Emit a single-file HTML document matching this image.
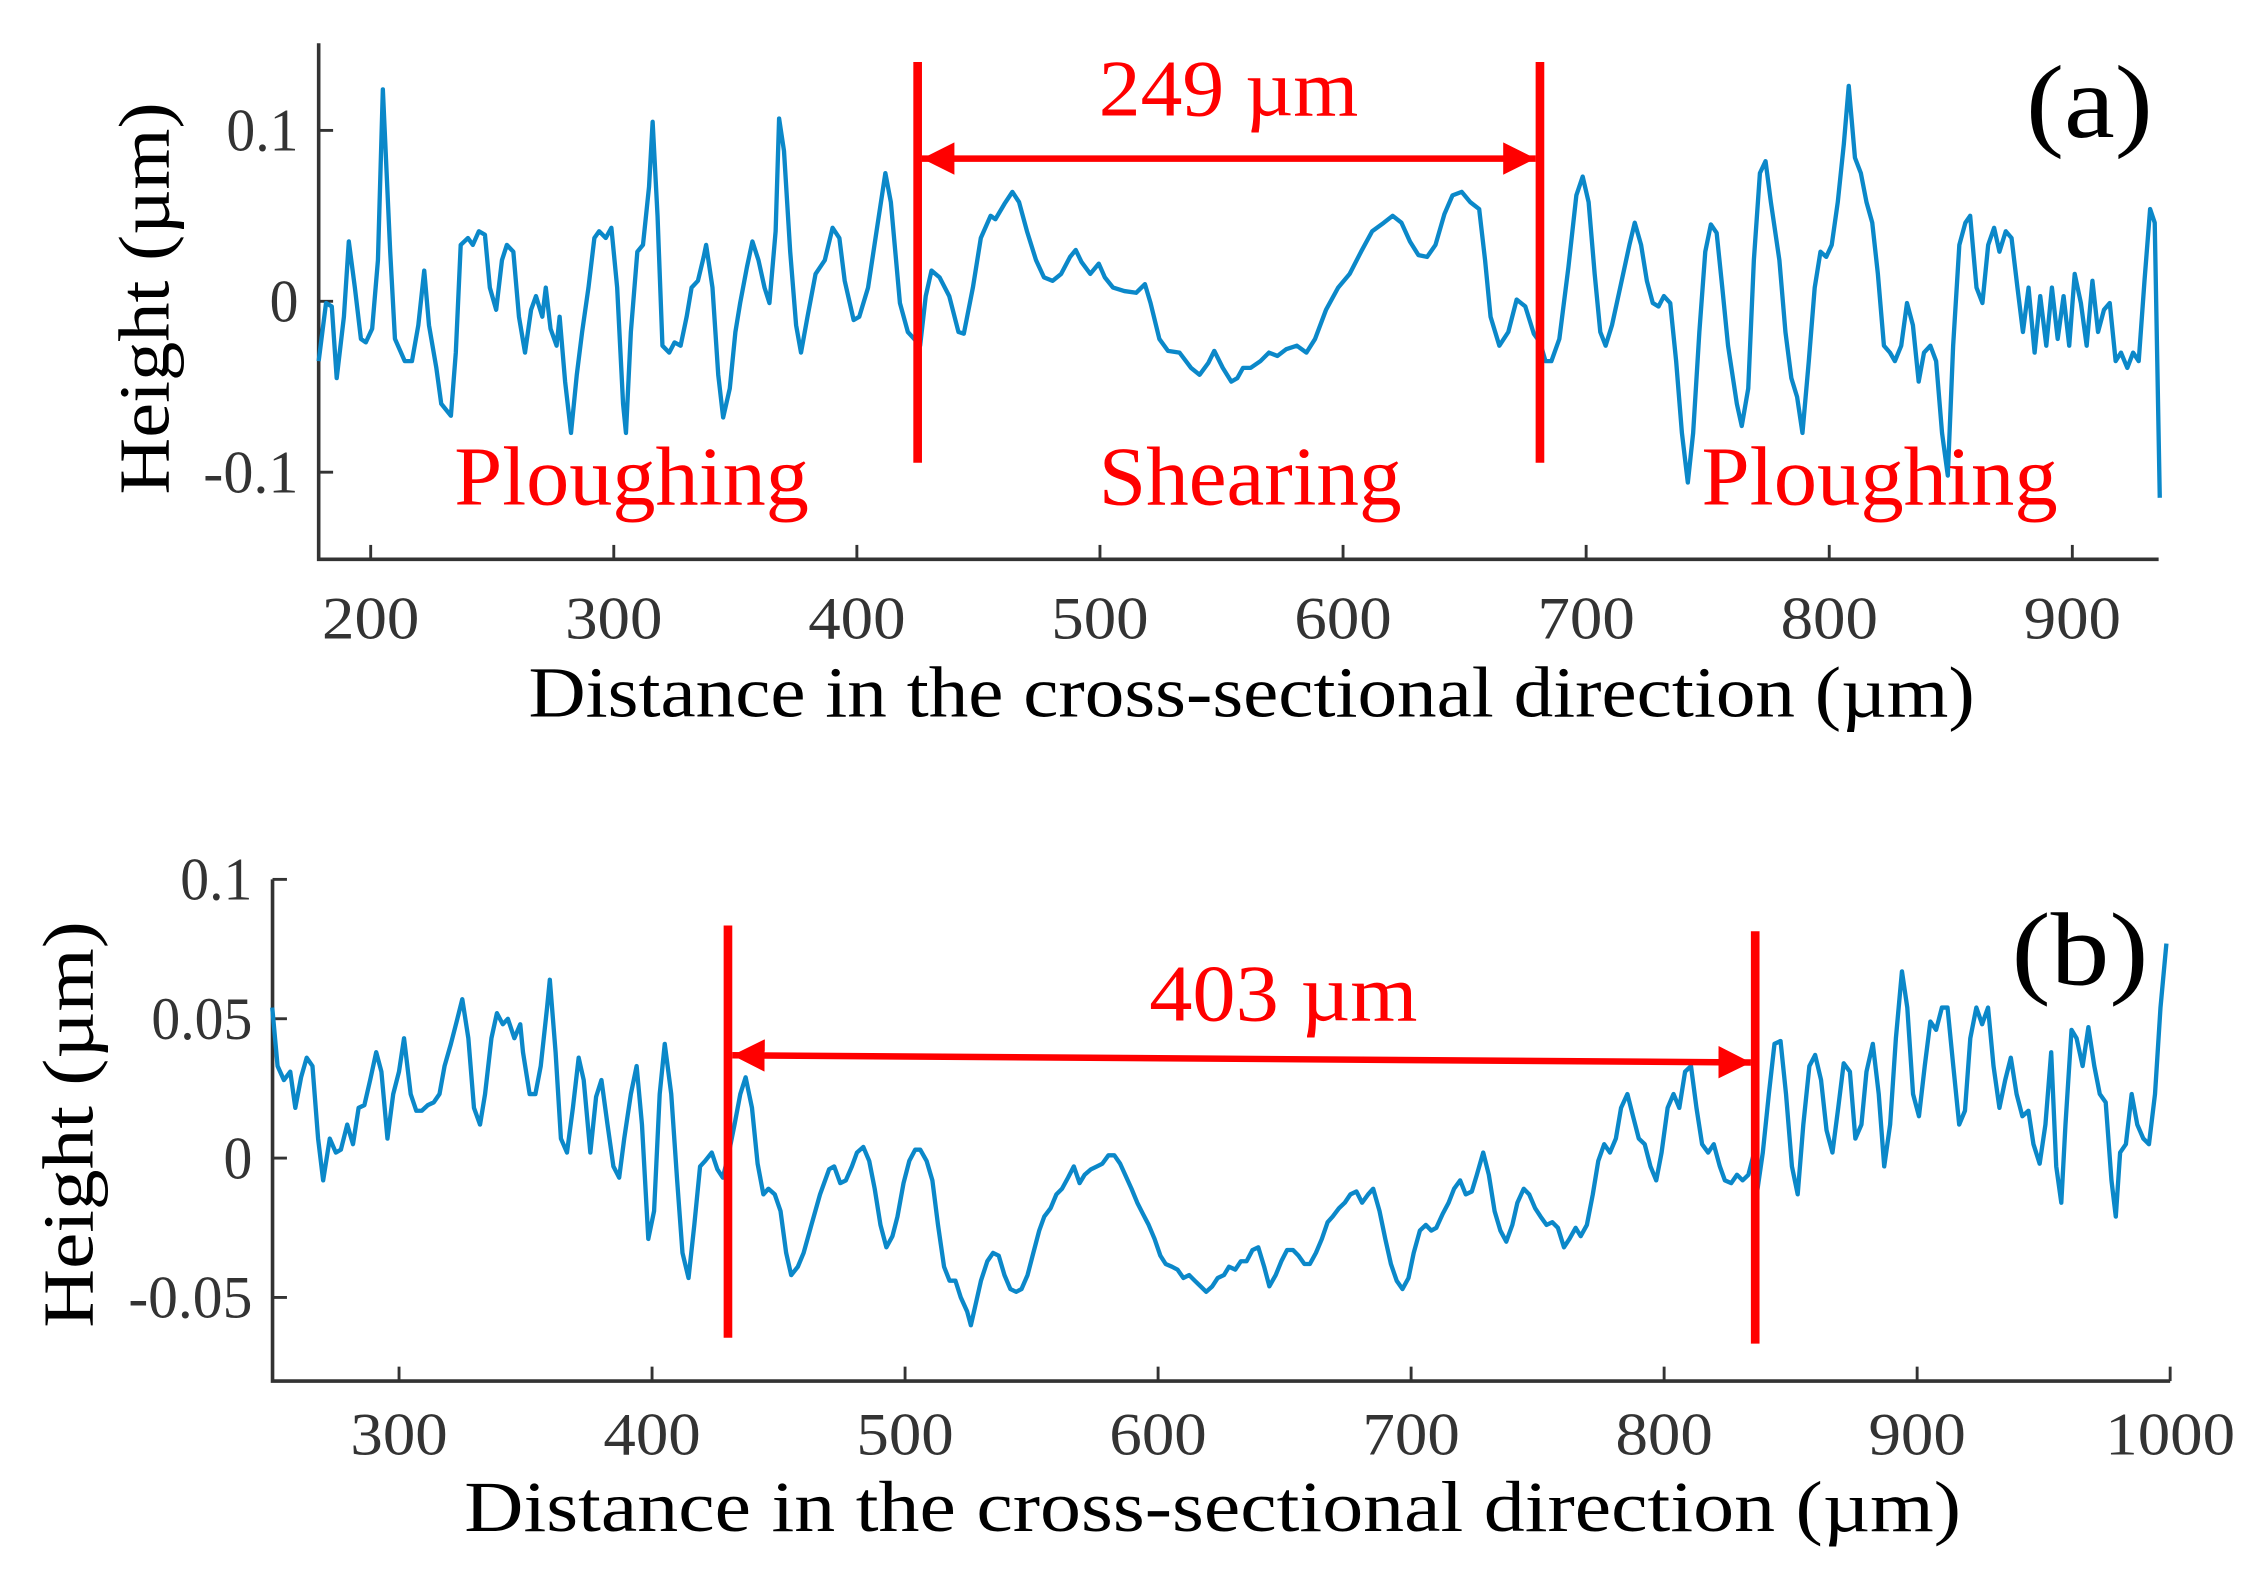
<!DOCTYPE html>
<html><head><meta charset="utf-8"><style>
html,body{margin:0;padding:0;background:#fff;}
svg{display:block;}
text{font-family:"Liberation Serif",serif;}
</style></head><body>
<svg id="fig" width="2261" height="1580" viewBox="0 0 1568 1096" preserveAspectRatio="none" xmlns="http://www.w3.org/2000/svg">
<defs>
<marker id="ah" viewBox="0 0 10 10" refX="10" refY="5" markerWidth="5" markerHeight="5" orient="auto-start-reverse"><path d="M0,0 L10,5 L0,10 z" fill="#ff0000"/></marker>
</defs>
<g id="pa"></g>
<g id="pb"></g>
</svg>
<script>
// Panel (a) data
const aX = [178.6,181.6,184,186,189,191,193.5,196,198,200.6,203,205,208,210,214,217,219.6,222,224,227,229,233,235,237,240,242,244.5,247,249,251.6,254,256,258.7,261,263.5,266,268,270.6,272,274,276.5,277.7,280,282.4,284.8,287,289.6,292,294,296.7,299,301.4,303.8,305,307,309.7,312,314.5,316,318,320,322.8,325,327.5,330,332,334.6,337,338,340.6,343,345,347.7,350,352,354.8,357,359.5,362,364,366.6,368,370,372.6,375,377,379.7,383,386.8,390,392.8,395,398.7,401,404.6,408,411.7,414,417.7,421,423.6,426,428.3,430.7,434,438,441.8,444,447.7,451,455,457,460.7,464,466.7,470,473.7,477,480.5,484,487.7,490,492.4,496,499.5,502,505.4,510,514.9,518.5,520.8,524.4,528,532.7,537.5,541,544.6,547,550.5,554,556.5,558.8,562,566,569.5,573,576.6,581,584.9,588.5,593,598,602.7,607.4,612,616.8,620.4,624,627.5,631,634.6,638,641.7,645,648.8,652.3,656,658.4,660.7,664.3,668,671.4,675,678.5,681,683.3,685.7,689,692.7,696,698.6,701,703.5,705.8,708,710.6,714,717.8,720,722.6,725,727.4,729.8,732,734.6,737,739.4,741.8,744,746.6,749,751.3,753.7,756,758.4,762,764,766.7,769,771.5,773.8,776,779.5,782,784.4,786.8,789,791.6,794,796.4,798.8,801,803.5,806,808,810.6,813,815.3,817.7,820,822.5,825,827,829.6,832,834.4,836.8,839,841.6,844,846.4,848.8,851,853.5,856,858,860.6,863,865.4,867.8,870,872.6,875,877.4,879.7,882,884.5,886.8,889.3,891.6,894,896.4,898.7,901,903.5,905.9,908.3,910.6,913,915.4,917.8,920,922.6,925,927.3,929.7,932,933.9,936];
const aY = [-0.035,-0.001,-0.003,-0.045,-0.009,0.035,0.008,-0.022,-0.024,-0.016,0.024,0.124,0.029,-0.022,-0.035,-0.035,-0.014,0.018,-0.014,-0.039,-0.060,-0.067,-0.030,0.033,0.037,0.033,0.041,0.039,0.008,-0.005,0.024,0.033,0.029,-0.009,-0.030,-0.005,0.003,-0.009,0.008,-0.016,-0.026,-0.009,-0.047,-0.077,-0.043,-0.018,0.008,0.037,0.041,0.037,0.043,0.008,-0.060,-0.077,-0.018,0.029,0.033,0.067,0.105,0.050,-0.026,-0.030,-0.024,-0.026,-0.009,0.008,0.012,0.026,0.033,0.008,-0.043,-0.068,-0.051,-0.018,-0.001,0.020,0.035,0.024,0.008,-0.001,0.041,0.107,0.088,0.029,-0.014,-0.030,-0.009,0.016,0.024,0.043,0.037,0.012,-0.011,-0.009,0.008,0.040,0.075,0.058,-0.001,-0.018,-0.022,-0.026,0.003,0.018,0.014,0.003,-0.018,-0.019,0.008,0.037,0.050,0.048,0.057,0.064,0.058,0.041,0.024,0.014,0.012,0.016,0.026,0.030,0.023,0.016,0.022,0.014,0.008,0.006,0.005,0.010,-0.001,-0.022,-0.029,-0.030,-0.039,-0.043,-0.036,-0.029,-0.039,-0.047,-0.045,-0.039,-0.039,-0.035,-0.030,-0.032,-0.028,-0.026,-0.030,-0.022,-0.005,0.008,0.016,0.029,0.041,0.046,0.050,0.046,0.035,0.027,0.026,0.033,0.051,0.062,0.064,0.058,0.054,0.024,-0.009,-0.026,-0.018,0.001,-0.003,-0.019,-0.024,-0.035,-0.035,-0.022,0.020,0.062,0.073,0.058,0.016,-0.018,-0.026,-0.014,0.008,0.033,0.046,0.033,0.012,-0.001,-0.003,0.003,-0.001,-0.035,-0.077,-0.106,-0.077,-0.018,0.029,0.045,0.040,0.008,-0.026,-0.060,-0.073,-0.051,0.024,0.075,0.082,0.058,0.024,-0.018,-0.045,-0.056,-0.077,-0.035,0.008,0.029,0.026,0.033,0.058,0.092,0.126,0.084,0.075,0.058,0.046,0.016,-0.026,-0.030,-0.035,-0.026,-0.001,-0.014,-0.047,-0.030,-0.026,-0.035,-0.077,-0.102,-0.026,0.033,0.046,0.050,0.008,-0.001,0.033,0.043,0.029,0.041,0.037,0.008,-0.018,0.008,-0.030,0.003,-0.026,0.008,-0.022,0.003,-0.026,0.016,-0.001,-0.026,0.012,-0.018,-0.005,-0.001,-0.035,-0.030,-0.039,-0.030,-0.035,0.012,0.054,0.046,-0.115];
const aXTicks = [200,300,400,500,600,700,800,900];
const aYTicks = [-0.1,0,0.1];
const aYTickLabels = ["-0.1","0","0.1"];
const aMarks = [425,681];

// Panel (b) data
const bX = [249.9,252,254.5,257,259,261.3,263.5,265.8,268,270,272.6,275,277,279.5,281.8,284,286.3,288.6,291,293,295.4,297.7,300,302,304.6,306.8,309,311.4,313.7,316,318,320.5,322.8,325,327.4,329.6,332,334,336.5,338.7,341,343,345.6,347.9,349,351.6,353.9,356,358.5,359.6,361.9,364,366.4,368.7,371,373,375.6,377.9,380,382.4,384.7,387,389,391.6,393.9,396,398.5,400.8,403,405,407.6,409.9,412,414.4,416.7,419,421,423.6,425.8,428,430.4,432.6,434.9,437,439.5,441.7,444,446,448.5,450.8,453,455,457.6,459.9,463,466.4,470,472,474.4,476.6,479,481,483.5,485.8,488,490.3,492.6,495,497,499.4,501.7,504,506,508.5,510.8,513,515.4,517.6,519.9,522,524.5,526,528,530,532.5,534.8,537,539.3,541.6,543.9,546,548.4,550.7,553,555,557.5,559.8,562,564.4,566.7,569,571,573.5,575.8,578,580.4,582.7,585,587,589.5,591.8,594,596.3,598.6,600.9,603,605.5,607.7,610,612.3,614.5,616.8,619,621.4,623.6,626,628,630.5,632.7,635,637.3,639.6,641.9,644,646.5,648.7,651,653.3,655.5,657.8,660,662.4,664.7,667,669,671.5,673.8,676,678.4,680.6,683,685,687.5,689.8,692,694.3,696.6,699,701,703.5,705.8,708,710,712.5,714.8,717,719.4,721.6,724,726,728.5,730.7,733,735.3,737.6,740,742,744.5,746.7,749,751.2,753.5,755.8,758,760.4,762.6,765,767,769.5,771.8,774,776.3,778.6,780.9,783,785.5,787.7,790,792.3,794.6,796.9,799,801.4,803.7,806,808.3,810.6,812.8,815,817.4,819.6,822,824,826.5,828.8,831,833.3,835.6,836.8,839,841.4,843.6,846,848.2,850.5,852.8,855,857.4,859.7,862,864.2,866.5,868.8,871,873.4,875.6,878,880,882.5,884.8,887,889.3,891.6,894,896.1,898.4,900.7,903,905.2,907.5,909.8,912,914.3,916.6,918.9,921,923.4,925.7,928,930.2,932.5,934.8,937,939.3,941.6,944,946,948.4,950.7,953,955,957,958.6,961,963,965.4,967.7,970,972.2,974.5,976.8,978.5,980.2,982.5,984.8,987,989.4,991.6,994,996.2,998.5];
const bY = [0.054,0.033,0.028,0.031,0.018,0.029,0.036,0.033,0.007,-0.008,0.007,0.002,0.003,0.012,0.005,0.018,0.019,0.028,0.038,0.031,0.007,0.023,0.031,0.043,0.023,0.017,0.017,0.019,0.020,0.023,0.033,0.041,0.049,0.057,0.043,0.018,0.012,0.023,0.043,0.052,0.048,0.050,0.043,0.048,0.038,0.023,0.023,0.033,0.054,0.064,0.038,0.007,0.002,0.018,0.036,0.028,0.002,0.022,0.028,0.012,-0.003,-0.007,0.007,0.023,0.033,0.012,-0.029,-0.019,0.023,0.041,0.023,-0.008,-0.034,-0.043,-0.024,-0.003,-0.001,0.002,-0.004,-0.007,0.002,0.012,0.023,0.029,0.018,-0.002,-0.013,-0.011,-0.013,-0.019,-0.034,-0.042,-0.039,-0.034,-0.024,-0.013,-0.004,-0.003,-0.009,-0.008,-0.003,0.002,0.004,-0.001,-0.011,-0.024,-0.032,-0.028,-0.021,-0.009,-0.001,0.003,0.003,-0.001,-0.008,-0.024,-0.039,-0.044,-0.044,-0.050,-0.055,-0.060,-0.052,-0.044,-0.037,-0.034,-0.035,-0.042,-0.047,-0.048,-0.047,-0.042,-0.034,-0.026,-0.021,-0.018,-0.013,-0.011,-0.007,-0.003,-0.009,-0.006,-0.004,-0.003,-0.002,0.001,0.001,-0.002,-0.006,-0.011,-0.016,-0.020,-0.024,-0.029,-0.035,-0.038,-0.039,-0.040,-0.043,-0.042,-0.044,-0.046,-0.048,-0.046,-0.043,-0.042,-0.039,-0.040,-0.037,-0.037,-0.033,-0.032,-0.039,-0.046,-0.042,-0.037,-0.033,-0.033,-0.035,-0.038,-0.038,-0.034,-0.029,-0.023,-0.021,-0.018,-0.016,-0.013,-0.012,-0.016,-0.013,-0.011,-0.019,-0.029,-0.038,-0.044,-0.047,-0.043,-0.034,-0.026,-0.024,-0.026,-0.025,-0.020,-0.016,-0.011,-0.008,-0.013,-0.012,-0.006,0.002,-0.006,-0.019,-0.026,-0.030,-0.024,-0.016,-0.011,-0.013,-0.018,-0.021,-0.024,-0.023,-0.025,-0.032,-0.029,-0.025,-0.028,-0.024,-0.013,-0.001,0.005,0.002,0.007,0.018,0.023,0.015,0.007,0.005,-0.003,-0.008,0.002,0.018,0.023,0.018,0.031,0.033,0.018,0.005,0.002,0.005,-0.003,-0.008,-0.009,-0.006,-0.008,-0.006,0.002,-0.012,0.002,0.023,0.041,0.042,0.023,-0.003,-0.013,0.012,0.033,0.037,0.028,0.010,0.002,0.018,0.034,0.031,0.007,0.012,0.031,0.041,0.023,-0.003,0.012,0.043,0.067,0.054,0.023,0.015,0.033,0.049,0.046,0.054,0.054,0.033,0.012,0.017,0.043,0.054,0.048,0.054,0.033,0.018,0.028,0.036,0.023,0.015,0.017,0.005,-0.002,0.012,0.038,-0.003,-0.016,0.012,0.046,0.043,0.033,0.047,0.033,0.023,0.020,-0.008,-0.021,0.002,0.005,0.023,0.012,0.007,0.005,0.023,0.054,0.077];
const bXTicks = [300,400,500,600,700,800,900,1000];
const bYTicks = [-0.05,0,0.05,0.1];
const bYTickLabels = ["-0.05","0","0.05","0.1"];
const bMarks = [430,836];

const NS = "http://www.w3.org/2000/svg";
function mk(parent, tag, attrs, txt){
  const e = document.createElementNS(NS, tag);
  for (const k in attrs) e.setAttribute(k, attrs[k]);
  if (txt !== undefined) e.textContent = txt;
  parent.appendChild(e);
  return e;
}
function lenFor(s){ // approximate label widths in reference
  if (s.length === 1) return 22;
  return s.length * 22;
}

function drawPanel(g, cfg){
  const sx = v => cfg.L + (v - cfg.x0) / (cfg.x1 - cfg.x0) * (cfg.R - cfg.L);
  const sy = v => cfg.B - (v - cfg.y0) / (cfg.y1 - cfg.y0) * (cfg.B - cfg.T);
  const ax = mk(g, "path", {d:`M${cfg.L},${cfg.axTop} L${cfg.L},${cfg.B} L${cfg.R},${cfg.B}`, fill:"none", stroke:"#333", "stroke-width":2.5});
  
  
  cfg.xt.forEach(t => {
    const x = sx(t);
    const tk = mk(g, "line", {x1:x, x2:x, y1:cfg.B, y2:cfg.B-10, stroke:"#333", "stroke-width":2});
    
    
    const s = String(t);
    const lb = mk(g, "text", {x:x, y:cfg.xlabY, "text-anchor":"middle", "font-size":42, fill:"#333", textLength:s.length*22.5, lengthAdjust:"spacingAndGlyphs"}, s);
    
    
  });
  cfg.yt.forEach((t,i) => {
    const y = sy(t);
    const tk = mk(g, "line", {x1:cfg.L, x2:cfg.L+10, y1:y, y2:y, stroke:"#333", "stroke-width":2});
    
    
    const s = cfg.ytl[i];
    const w = s.replace(/[.]/g,"").length*20 + (s.indexOf(".")>=0?10:0) - (s[0]==="-"?4:0);
    const lb = mk(g, "text", {x:cfg.L-14, y:y+14, "text-anchor":"end", "font-size":42, fill:"#333", textLength:w, lengthAdjust:"spacingAndGlyphs"}, s);
    
    
  });
  let d = "";
  cfg.xs.forEach((v,i) => { d += (i ? "L" : "M") + sx(v).toFixed(1) + "," + sy(cfg.ys[i]).toFixed(1); });
  const ln = mk(g, "path", {d:d, fill:"none", stroke:"#0b88c9", "stroke-width":3, "stroke-linejoin":"round"});
  
  
  cfg.marks.forEach((m,i) => {
    const x = sx(m);
    const r = mk(g, "line", {x1:x, x2:x, y1:cfg.mT[i], y2:cfg.mB[i], stroke:"#ff0000", "stroke-width":6});
    
    
  });
  const xa = sx(cfg.marks[0]) + 3, xb = sx(cfg.marks[1]) - 3;
  const ar = mk(g, "line", {x1:xa, y1:cfg.arY1, x2:xb, y2:cfg.arY2, stroke:"#ff0000", "stroke-width":4.5, "marker-start":"url(#ah)", "marker-end":"url(#ah)"});
  
  
  const xt = mk(g, "text", {x:cfg.xtX, y:cfg.xtY, "text-anchor":"middle", "font-size":50, fill:"#000", textLength:cfg.xtLen, lengthAdjust:"spacingAndGlyphs"}, "Distance in the cross-sectional direction (\u00b5m)");
  
  
  const yt = mk(g, "text", {x:0, y:0, "text-anchor":"middle", "font-size":50, fill:"#000", textLength:cfg.ytLen, lengthAdjust:"spacingAndGlyphs", transform:`translate(${cfg.ytX},${cfg.ytY}) rotate(-90)`}, "Height (\u00b5m)");
  
  
}

const pa = document.getElementById("pa");
drawPanel(pa, {L:221,R:1497,T:30,B:388,axTop:30,x0:178.6,x1:935.5,y0:-0.151,y1:0.151,
  xt:aXTicks, yt:aYTicks, ytl:aYTickLabels, xs:aX, ys:aY, marks:aMarks, mT:[43,43], mB:[321,321],
  arY1:110, arY2:110, xlabY:443, xtX:868, xtY:497, xtLen:1003, ytX:117, ytY:207, ytLen:272});
const pb = document.getElementById("pb");
drawPanel(pb, {L:189,R:1505,T:610,B:958,axTop:610,x0:250,x1:1000,y0:-0.0800,y1:0.1,
  xt:bXTicks, yt:bYTicks, ytl:bYTickLabels, xs:bX, ys:bY, marks:bMarks, mT:[642,646], mB:[928,932],
  arY1:732, arY2:737, xlabY:1009, xtX:841, xtY:1062, xtLen:1038, ytX:64, ytY:780, ytLen:282});

function label(g, name, txt, x, y, fs, col, len, anchor){
  const t = mk(g, "text", {x:x, y:y, "font-size":fs, fill:col, "text-anchor":anchor||"start", textLength:len, lengthAdjust:"spacingAndGlyphs"}, txt);
  
  
}
label(pa, "width-label-a", "249 \u00b5m", 762, 80, 56, "#ff0000", 180);
label(pa, "panel-label-a", "(a)", 1405, 95, 72, "#000", 88);
label(pa, "ploughing-label-left", "Ploughing", 315, 350, 58, "#ff0000", 246);
label(pa, "shearing-label", "Shearing", 762, 350, 58, "#ff0000", 210);
label(pa, "ploughing-label-right", "Ploughing", 1180, 350, 58, "#ff0000", 247);
label(pb, "width-label-b", "403 \u00b5m", 797, 708, 56, "#ff0000", 186);
label(pb, "panel-label-b", "(b)", 1395, 683, 72, "#000", 95);
</script>
</body></html>
